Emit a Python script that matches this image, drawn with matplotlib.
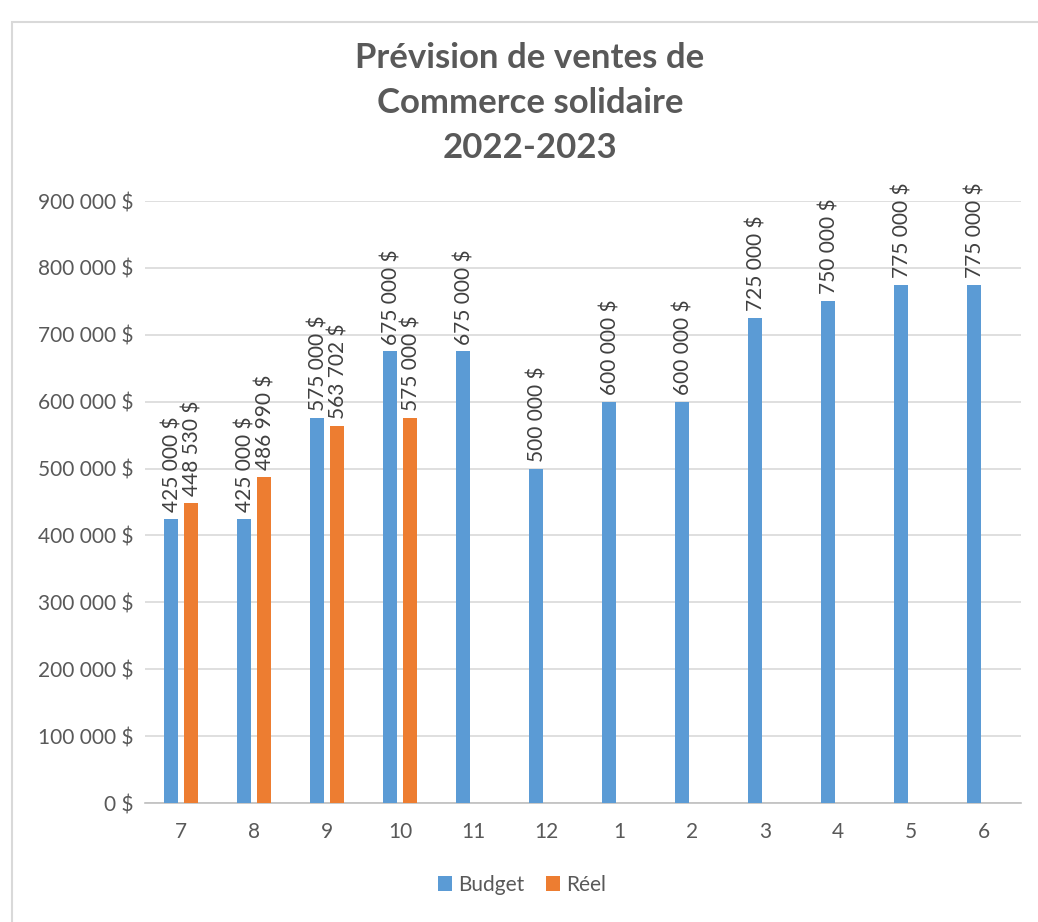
import matplotlib
matplotlib.use("Agg")
import matplotlib.pyplot as plt
from matplotlib.patches import Rectangle
import numpy as np

months = ["7", "8", "9", "10", "11", "12", "1", "2", "3", "4", "5", "6"]
budget = [425000, 425000, 575000, 675000, 675000, 500000, 600000, 600000, 725000, 750000, 775000, 775000]
reel = [448530, 486990, 563702, 575000]
yticks = [0, 100000, 200000, 300000, 400000, 500000, 600000, 700000, 800000, 900000]

blue = "#5B9BD5"
orange = "#ED7D31"
plt.rcParams['font.family'] = ['Lato', 'DejaVu Sans']

def fmt(v):
    s = f"{v:,}".replace(",", " ")
    return s + " $"

W, H = 1038, 922
fig = plt.figure(figsize=(W / 100, H / 100), dpi=100)
ax = fig.add_axes([144.5 / W, 119 / H, (1020.5 - 144.5) / W, (803 - 201) / H])

x = np.arange(len(months))
bw = 0.205
off = 0.137
ax.bar(x - off, budget, width=bw, color=blue, label="Budget", zorder=3)
xr = np.arange(len(reel))
ax.bar(xr + off, reel, width=bw, color=orange, label="Réel", zorder=3)

for xi, v in zip(x - off, budget):
    ax.annotate(fmt(v), (xi, v), xytext=(1, 5), textcoords="offset points",
                rotation=90, ha="center", va="bottom", fontsize=15,
                color="#404040", annotation_clip=False)
for xi, v in zip(xr + off, reel):
    ax.annotate(fmt(v), (xi, v), xytext=(1, 5), textcoords="offset points",
                rotation=90, ha="center", va="bottom", fontsize=15,
                color="#404040", annotation_clip=False)

ax.set_xlim(-0.5, len(months) - 0.5)
ax.set_ylim(0, 900000)
ax.set_yticks(yticks)
ax.set_yticklabels([fmt(v) for v in yticks], fontsize=15, color="#595959")
ax.set_xticks(x)
ax.set_xticklabels(months, fontsize=15, color="#595959")
ax.tick_params(axis="both", length=0)
ax.tick_params(axis="y", pad=8)
ax.tick_params(axis="x", pad=14)
ax.grid(axis="y", color="#D9D9D9", linewidth=1.2, zorder=0)
for s in ["top", "right", "left"]:
    ax.spines[s].set_visible(False)
ax.spines["bottom"].set_color("#BFBFBF")
ax.spines["bottom"].set_linewidth(1.2)

fig.text(530 / W, 1 - 103 / H, "Prévision de ventes de\nCommerce solidaire\n2022-2023",
         ha="center", va="center", fontsize=25, fontweight="bold", color="#595959",
         linespacing=1.5)

fig.legend(loc="center", bbox_to_anchor=(522 / W, 1 - 885 / H), ncol=2, frameon=False,
           fontsize=15, handlelength=0.7, handleheight=0.7, handletextpad=0.3,
           columnspacing=1.0, labelcolor="#595959")

fig.patches.append(Rectangle((12 / W, -0.1), 1.2, 1.1 - 22 / H, transform=fig.transFigure,
                             fill=False, edgecolor="#D9D9D9", linewidth=1.5))

fig.savefig("out.png", dpi=100, facecolor="white")
